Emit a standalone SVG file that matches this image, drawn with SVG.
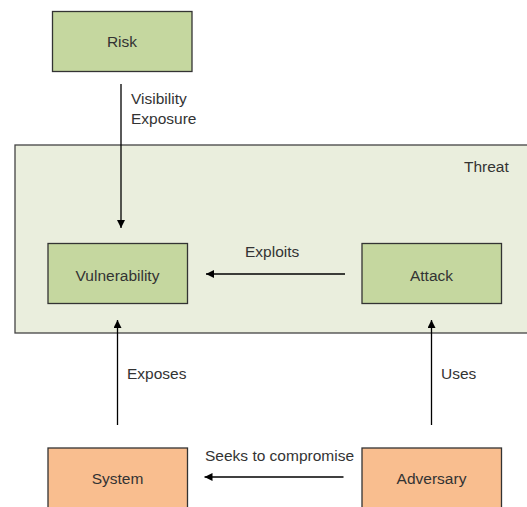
<svg xmlns="http://www.w3.org/2000/svg" width="527" height="507" viewBox="0 0 527 507">
<defs>
<marker id="ah" viewBox="0 0 10 10" refX="10" refY="5" markerWidth="8" markerHeight="8" markerUnits="userSpaceOnUse" orient="auto">
<path d="M0,0 L10,5 L0,10 z" fill="#000"/>
</marker>
</defs>
<style>
text{font-family:"Liberation Sans",Arial,sans-serif;font-size:15.5px;fill:#333}
.g{fill:#c5d79f;stroke:#333;stroke-width:1.3}
.o{fill:#f9be8f;stroke:#333;stroke-width:1.3}
.c{stroke:#000;stroke-width:1.3;fill:none;marker-end:url(#ah)}
.m{text-anchor:middle}
</style>
<rect width="527" height="507" fill="#fff"/>
<g id="threat">
<rect x="15" y="145" width="540" height="188" fill="#eaeedd" stroke="#444" stroke-width="1.3"/>
<text x="464" y="172">Threat</text>
</g>
<g id="risk">
<rect class="g" x="52.5" y="11.5" width="139.5" height="60"/>
<text class="m" x="122" y="47">Risk</text>
</g>
<g id="vulnerability">
<rect class="g" x="48" y="243.5" width="139.5" height="60"/>
<text class="m" x="117.5" y="281">Vulnerability</text>
</g>
<g id="attack">
<rect class="g" x="362" y="243.5" width="139.5" height="60"/>
<text class="m" x="431.5" y="281">Attack</text>
</g>
<g id="system">
<rect class="o" x="48" y="448" width="139.5" height="64"/>
<text class="m" x="117.5" y="484">System</text>
</g>
<g id="adversary">
<rect class="o" x="362" y="448" width="139.5" height="64"/>
<text class="m" x="431.5" y="484">Adversary</text>
</g>
<g id="connectors">
<line class="c" x1="121" y1="84" x2="121" y2="228"/>
<text x="131" y="104">Visibility</text>
<text x="131" y="124">Exposure</text>
<line class="c" x1="345" y1="274" x2="206" y2="274"/>
<text x="245" y="257">Exploits</text>
<line class="c" x1="117.5" y1="425" x2="117.5" y2="320"/>
<text x="127" y="378.5">Exposes</text>
<line class="c" x1="431.5" y1="425" x2="431.5" y2="320"/>
<text x="441" y="378.5">Uses</text>
<line class="c" x1="343.5" y1="477" x2="204.5" y2="477"/>
<text x="205" y="460.5">Seeks to compromise</text>
</g>
</svg>
